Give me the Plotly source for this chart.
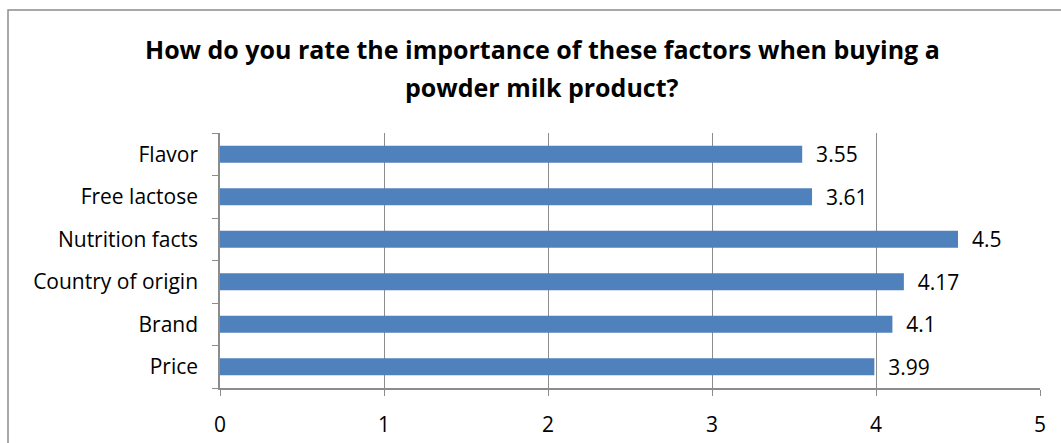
import plotly.graph_objects as go

categories = ["Price", "Brand", "Country of origin", "Nutrition facts", "Free lactose", "Flavor"]
values = [3.99, 4.1, 4.17, 4.5, 3.61, 3.55]
title_lines = ["How do you rate the importance of these factors when buying a",
               "powder milk product?"]

FONT = "'Open Sans', sans-serif"
W, H = 1061, 443
L, R, T, B = 220, 21, 133, 55
pw, ph = W - L - R, H - T - B

fig = go.Figure(go.Bar(
    x=values, y=categories, orientation="h",
    marker=dict(color="#4F81BD", line=dict(color="#4F81BD", width=0)),
    text=values, texttemplate="  %{x}", textposition="outside",
    constraintext="none",
    textfont=dict(family=FONT, size=21, color="#000"),
    cliponaxis=False,
))

fig.update_layout(
    width=W, height=H,
    margin=dict(l=L, r=R, t=T, b=B, autoexpand=False),
    paper_bgcolor="white", plot_bgcolor="white",
    bargap=0.6,
    showlegend=False,
    font=dict(family=FONT, color="#000"),
    xaxis=dict(range=[0, 5], dtick=1, showgrid=True, gridcolor="#8c8c8c", gridwidth=1,
               showline=True, linecolor="#8c8c8c", linewidth=1.5,
               ticks="outside", ticklen=6, tickcolor="#8c8c8c",
               tickfont=dict(family=FONT, size=21, color="#000"),
               ticklabelstandoff=11, zeroline=False, fixedrange=True, automargin=False),
    yaxis=dict(showline=True, linecolor="#8c8c8c", linewidth=1.5,
               ticks="outside", ticklen=6, tickcolor="#8c8c8c", tickson="boundaries",
               tickfont=dict(family=FONT, size=21, color="#000"),
               ticklabelstandoff=16, showgrid=False, fixedrange=True, automargin=False),
)

for i, (line, ypx) in enumerate(zip(title_lines, [49, 87])):
    fig.add_annotation(text="<b>%s</b>" % line, xref="paper", yref="paper",
                       x=(542 - L) / pw, y=(H - B - ypx) / ph,
                       xanchor="center", yanchor="middle", showarrow=False,
                       font=dict(family=FONT, size=25, color="#000"))

fig.add_shape(type="rect", xref="paper", yref="paper",
              x0=(8 - L) / pw, x1=(1075 - L) / pw,
              y0=(H - B - 460) / ph, y1=(H - B - 10) / ph,
              line=dict(color="#8c8c8c", width=1.5), fillcolor="rgba(0,0,0,0)", layer="below")

fig.write_html("out.html")
